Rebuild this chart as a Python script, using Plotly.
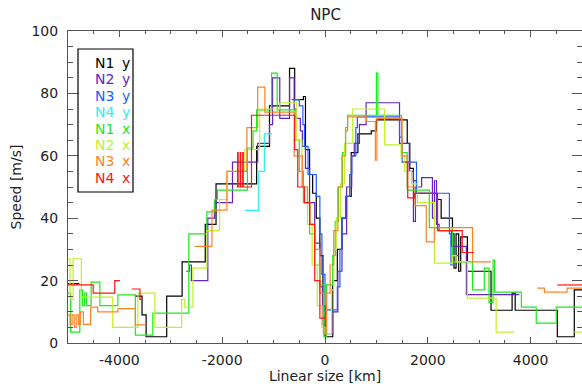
import plotly.graph_objects as go

# ---------------- data (step profiles: value holds from x[i] to x[i+1]; None = gap) -------------
x_n1y = [-5000, -4780, -3700, -3560, -3480, -3080, -2780, -2330, -2120, -1330, -1080, -690, -590, -420, -380, -300, -240, -170, -100, -40, 0, 150, 240, 330, 420, 510, 640, 900, 1000, 1600, 1650, 1720, 1780, 2180, 2260, 2480, 2510, 2550, 2600, 2640, 2770, 3230, 3640, 3700, 4520, 4850, 5000]
y_n1y = [19, None, 15, 9, 2, 15, 26, 38, 51, 63, 76, 88, 78, 79, 62, 54, 48, 40, 28, 12, 2, 20, 30, 40, 47, 61, 67, 68, 71.5, 64, 56, 52, 48, 46, 40, 35, 24, 35, 23, 34, 23, 10.5, 16, 10.5, 2, 17, 17]

x_n2y = [-2700, -2640, -2600, -2280, -2150, -1800, -1310, -1080, -1020, -880, -690, -600, -560, -480, -440, -380, -300, -200, -100, -40, 0, 150, 250, 330, 420, 520, 570, 670, 800, 1450, 1640, 1720, 1760, 1880, 2090, 2130, 2170, 2220, 2460, 2750, 3780]
y_n2y = [23, 25, 20, 40, 45, 58, 64, 70, 85, 72, 85, 75, 72, 68, 63, 56, 45, 32, 18, 6, 3, 10, 23, 35, 50, 60, 64, 70, 77, 64, 55, 39, 50, 53, 40, 52, 38, 36, 31, 15.5, 15.5]

x_n3y = [-650, -500, -430, -400, -330, -170, -100, -60, 0, 240, 290, 330, 400, 480, 520, 600, 630, 1450, 1500, 1780, 2420, 2450, 2500, 2600]
y_n3y = [78, 76, 70, 63, 54, 47, 35, 22, 10.6, 18, 30, 40, 47, 54, 60, 69, 72.5, 66, 58, 48, 35, 25, 28, 28]

x_n4y = [-1560, -1290, -1180, -1030]
y_n4y = [42.5, 55, 67, 67]

x_n1x = [-5000, -4950, -4770, -4720, -4680, -4640, -4550, -4380, -4030, -3690, -3350, -2650, -2300, -2150, -2090, -1510, -1400, -1330, -1040, -930, -590, -500, -420, -300, -200, -100, -20, 30, 150, 200, 260, 340, 400, 440, 1000, 1030, 1490, 1600, 2030, 2480, 2870, 3100, 3190, 3270, 3300, 3820, 4110, 4500, 5000]
y_n1x = [16, 3.5, 17, 12, 16, 12, 19.5, 12, 15.4, 2.5, 9.6, 35, 42, 46, 49, 62.5, 68, 74.7, 86.5, 74.7, 65, 55, 45, 35, 25, 18.6, 2, 18.6, 28, 39, 50, 61, 69, 73, 86.5, 73, 61, 49, 37, 26, 17, 24, 13, 26.6, 16.3, 11.5, 6.4, 11.5, 11.5]

x_n2x = [-5000, -4960, -4900, -4740, -4130, -3640, -3310, -2790, -2730, -2570, -2300, -2050, -1900, -1560, -1270, -880, -550, -450, -340, -250, -150, -60, 0, 130, 170, 220, 300, 380, 540, 1160, 1480, 1550, 1680, 1800, 2130, 2480, 2550, 2770, 3330, 3680, 4850, 5000]
y_n2x = [27, 14, 27, 14.7, 5, 16, 5, 14, 11.5, 24, 36, 46, 55, 62, 75, 77, 65, 50, 38, 25, 12, 5, 3, 17, 30, 40, 51, 64, 75, 63.5, 60, 55, 51, 45, 25.6, 28, 26, 14.4, 3.5, None, 3.5, 3.5]

x_n3x = [-5000, -4960, -4920, -4880, -4840, -4800, -4760, -4700, -4560, -4420, -4030, -3690, -3490, -2530, -2200, -1910, -1520, -1310, -1170, -600, -440, -340, -290, -200, -100, -30, 30, 100, 170, 250, 330, 400, 440, 810, 980, 1010, 1500, 1600, 1750, 1970, 2130, 2870, 3230, 4130, 4270, 4710, 5000]
y_n3x = [9, 6, 9, 5, 9, 6, 10, 6, 11.5, 10, 11, 5.8, None, 31, 42.6, 55, 69, 82, 74, 60, 50, 45, 38, 30, 16, 3, 16, 25, 36, 50, 60, 68, 72.5, 71, 58.6, 72, 60, 50, 44, 32.4, 37, 26, None, 17.6, 16.3, 17.6, 17.6]

x_n4x = [-5000, -4510, -4090, -3990, -3760, -3600, -3560, -1720, -1700, -1690, -1650, -1640, -1600, -1590, -1430, -590, -530, -400, -300, -200, -100, 0, 1550, 1610, 1740, 2190, 2670, 2900, 4520, 5000]
y_n4x = [18.6, 16, 20, None, 17.3, 14, None, 50, 61, 50, 61, 50, 61, 50, 73, 62, 50, 45, 38, 20, 8, None, 58, 46.5, 48, 36, 29, None, 18.6, 18.6]

names = ["N1", "N2", "N3", "N4", "N1", "N2", "N3", "N4"]
comps = ["y", "y", "y", "y", "x", "x", "x", "x"]
colors = ["#000000", "#6424c4", "#1e5cff", "#2af0ec", "#1ee81e", "#c0f02c", "#ff8224", "#ff1414"]
series = [(x_n1y, y_n1y), (x_n2y, y_n2y), (x_n3y, y_n3y), (x_n4y, y_n4y),
          (x_n1x, y_n1x), (x_n2x, y_n2x), (x_n3x, y_n3x), (x_n4x, y_n4x)]

x_tickvals = [-4000, -2000, 0, 2000, 4000]
x_ticktext = ["-4000", "-2000", "0", "2000", "4000"]
y_tickvals = [0, 20, 40, 60, 80, 100]


def step_points(xs, ys):
    px, py = [], []
    for x, y in zip(xs, ys):
        if y is None:
            if py and py[-1] is not None:
                px.append(x)
                py.append(py[-1])
            px.append(x)
            py.append(None)
        else:
            px.append(x)
            py.append(y)
    return px, py


FONT = "DejaVu Sans"
fig = go.Figure()
for (xs, ys), nm, cp, col in zip(series, names, comps, colors):
    px, py = step_points(xs, ys)
    fig.add_trace(go.Scatter(x=px, y=py, mode="lines", line=dict(color=col, width=1.2, shape="hv"),
                             name=f"{nm} {cp}", showlegend=False, connectgaps=False))

# legend box drawn as text
L, R, T, B = 68, 582, 31, 343
W, H = R - L, B - T
def pxx(p):
    return (p - L) / W
def pxy(p):
    return (B - p) / H

fig.add_shape(type="rect", xref="paper", yref="paper", x0=pxx(78), x1=pxx(133), y0=pxy(192), y1=pxy(49),
              line=dict(color="#000000", width=1.2), fillcolor="white", layer="above")
for i, (nm, cp, col) in enumerate(zip(names, comps, colors)):
    yy = pxy(63 + i * 16.4)
    fig.add_annotation(xref="paper", yref="paper", x=pxx(93), y=yy, text=nm, showarrow=False,
                       xanchor="left", yanchor="middle", font=dict(family=FONT, size=14, color=col))
    fig.add_annotation(xref="paper", yref="paper", x=pxx(120), y=yy, text=cp, showarrow=False,
                       xanchor="left", yanchor="middle", font=dict(family=FONT, size=14, color=col))

axis_common = dict(showline=True, linecolor="#555555", linewidth=1, mirror="ticks", showgrid=False,
                   zeroline=False, ticks="inside", tickcolor="#555555",
                   tickfont=dict(family=FONT, size=14, color="#222222"))
fig.update_xaxes(range=[-5000, 5000], tickvals=x_tickvals, ticktext=x_ticktext, ticklen=6,
                 minor=dict(dtick=500, ticks="inside", ticklen=3, tickcolor="#555555"),
                 title=dict(text="Linear size [km]", font=dict(family=FONT, size=14, color="#222222"), standoff=4),
                 ticklabelstandoff=4, **axis_common)
fig.update_yaxes(range=[0, 100], tickvals=y_tickvals, ticklen=10,
                 minor=dict(dtick=5, ticks="inside", ticklen=5, tickcolor="#555555"),
                 title=dict(text="Speed [m/s]", font=dict(family=FONT, size=14, color="#222222"), standoff=6),
                 ticklabelstandoff=6, **axis_common)
fig.update_layout(width=582, height=389, margin=dict(l=L, r=582 - R, t=T, b=389 - B),
                  paper_bgcolor="white", plot_bgcolor="white",
                  title=dict(text="NPC", x=pxx(325.5), xref="paper", y=1 - 15 / 389, yref="container",
                             xanchor="center", yanchor="middle", font=dict(family=FONT, size=15, color="#222222")))
fig.write_html("out.html")
